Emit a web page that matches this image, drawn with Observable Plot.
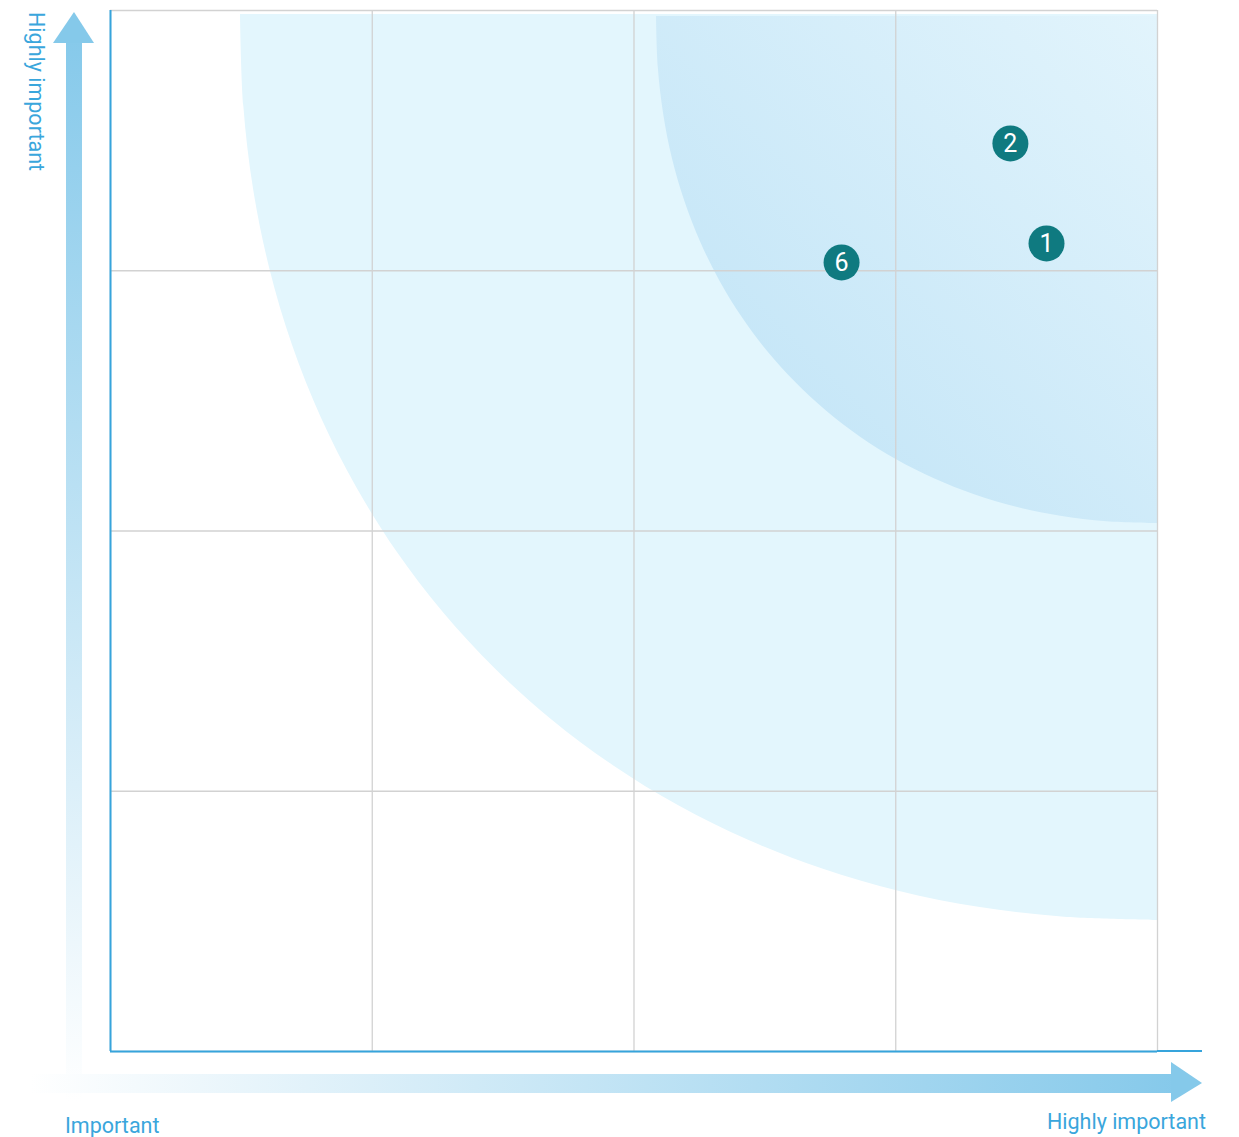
<!DOCTYPE html>
<html>
<head>
<meta charset="utf-8">
<script src="https://cdn.jsdelivr.net/npm/d3@7"></script>
<script src="https://cdn.jsdelivr.net/npm/@observablehq/plot@0.6"></script>
<style>
  html, body { margin: 0; padding: 0; background: #ffffff; }
  #chart { width: 1239px; height: 1137px; }
</style>
</head>
<body>
<div id="chart"></div>
<script>
// ---------- data ----------
const gridTicks = [0, 1, 2, 3, 4];

// outer (light) zone boundary, from its top end to its right end
const outerX = [0.4967, 0.5093, 0.5467, 0.6090, 0.6953, 0.8057, 0.9394, 1.0949, 1.2722, 1.4697, 1.6867, 1.9213, 2.1727, 2.4397, 2.7209, 3.0151, 3.3230, 3.6454, 4.0000];
const outerY = [3.9846, 3.6323, 3.3122, 3.0060, 2.7135, 2.4342, 2.1691, 1.9189, 1.6857, 1.4705, 1.2742, 1.0982, 0.9433, 0.8104, 0.7009, 0.6148, 0.5529, 0.5157, 0.5034];

// inner (darker) zone boundary
const innerX = [2.0860, 2.0928, 2.1135, 2.1471, 2.1944, 2.2548, 2.3278, 2.4130, 2.5096, 2.6178, 2.7362, 2.8642, 3.0017, 3.1476, 3.3012, 3.4621, 3.6302, 3.8063, 4.0000];
const innerY = [3.9769, 3.7798, 3.6008, 3.4294, 3.2657, 3.1094, 2.9610, 2.8211, 2.6905, 2.5702, 2.4599, 2.3616, 2.2751, 2.2006, 2.1395, 2.0911, 2.0569, 2.0357, 2.0288];

// numbered items
const itemLabels = ["2", "1", "6"];
const itemX = [3.438, 3.576, 2.793];
const itemY = [3.489, 3.105, 3.032];

// axis texts
const xLowLabel = "Important";
const xHighLabel = "Highly important";
const yHighLabel = "Highly important";

// ---------- tables ----------
const outer = outerX.map((x, i) => ({x, y: outerY[i]}));
const inner = innerX.map((x, i) => ({x, y: innerY[i]}));
const items = itemLabels.map((label, i) => ({label, x: itemX[i], y: itemY[i]}));

const outerCornerX = outerX[outerX.length - 1], outerCornerY = outerY[0];
const innerCornerX = innerX[innerX.length - 1], innerCornerY = innerY[0];

const blue = "#36a4dc";
const labelBlue = "#3aa6dc";
const gridGray = "#d2d2d2";
const fontFamily = "Roboto, 'Open Sans', sans-serif";

const plot = Plot.plot({
  width: 1239,
  height: 1137,
  marginLeft: 110,
  marginRight: 82,
  marginTop: 10,
  marginBottom: 86,
  x: {domain: [0, 4], axis: null},
  y: {domain: [0, 4], axis: null},
  style: {background: "#ffffff", fontFamily},
  marks: [
    Plot.area(outer, {
      x1: "x", y1: "y",
      x2: () => outerCornerX, y2: () => outerCornerY,
      curve: "catmull-rom",
      fill: "#e3f6fd"
    }),
    Plot.area(inner, {
      x1: "x", y1: "y",
      x2: () => innerCornerX, y2: () => innerCornerY,
      curve: "catmull-rom",
      fill: "url(#innerGrad)"
    }),
    Plot.ruleX(gridTicks, {stroke: gridGray, strokeWidth: 1.3}),
    Plot.ruleY(gridTicks, {stroke: gridGray, strokeWidth: 1.3}),
    Plot.ruleX([0], {stroke: blue, strokeWidth: 2}),
    Plot.ruleY([0], {stroke: blue, strokeWidth: 2}),
    Plot.dot(items, {x: "x", y: "y", r: 18, fill: "#0f7a80", stroke: "none"}),
    Plot.text(items, {x: "x", y: "y", text: "label", fill: "#ffffff", fontSize: 25, fontFamily, dy: 1})
  ]
});

document.getElementById("chart").appendChild(plot);

// ---------- decorations (arrows, axis texts) ----------
const svg = d3.select(plot);
const xs = plot.scale("x"), ys = plot.scale("y");
const X0 = xs.apply(0), X4 = xs.apply(4), Y0 = ys.apply(0), Y4 = ys.apply(4);

const defs = svg.insert("defs", ":first-child");
const ig = defs.append("linearGradient").attr("id", "innerGrad")
  .attr("x1", 0).attr("y1", 1).attr("x2", 1).attr("y2", 0);
ig.append("stop").attr("offset", 0).attr("stop-color", "#bde2f6");
ig.append("stop").attr("offset", 1).attr("stop-color", "#e2f4fc");

const vg = defs.append("linearGradient").attr("id", "vArrowGrad")
  .attr("gradientUnits", "userSpaceOnUse")
  .attr("x1", 0).attr("y1", Y4).attr("x2", 0).attr("y2", Y0 + 50);
vg.append("stop").attr("offset", 0).attr("stop-color", "#83c8ea");
vg.append("stop").attr("offset", 1).attr("stop-color", "#ffffff");

const hg = defs.append("linearGradient").attr("id", "hArrowGrad")
  .attr("gradientUnits", "userSpaceOnUse")
  .attr("x1", X0 - 80).attr("y1", 0).attr("x2", X4 + 45).attr("y2", 0);
hg.append("stop").attr("offset", 0).attr("stop-color", "#ffffff");
hg.append("stop").attr("offset", 1).attr("stop-color", "#83c8ea");

const deco = svg.append("g").attr("text-anchor", "start");

// vertical arrow
deco.append("rect")
  .attr("x", X0 - 44).attr("y", Y4 + 32)
  .attr("width", 16).attr("height", (Y0 + 50) - (Y4 + 32))
  .attr("fill", "url(#vArrowGrad)");
deco.append("path")
  .attr("d", `M${X0 - 57},${Y4 + 33}L${X0 - 36},${Y4 + 2}L${X0 - 16},${Y4 + 33}Z`)
  .attr("fill", "#85c9ea");

// horizontal arrow
deco.append("rect")
  .attr("x", X0 - 80).attr("y", Y0 + 23)
  .attr("width", (X4 + 15) - (X0 - 80)).attr("height", 19)
  .attr("fill", "url(#hArrowGrad)");
deco.append("path")
  .attr("d", `M${X4 + 14},${Y0 + 11}L${X4 + 45},${Y0 + 32}L${X4 + 14},${Y0 + 51}Z`)
  .attr("fill", "#85c9ea");

// x axis line extension past the frame
deco.append("line")
  .attr("x1", X4).attr("x2", X4 + 45)
  .attr("y1", Y0).attr("y2", Y0)
  .attr("stroke", blue).attr("stroke-width", 2);

// axis texts
deco.append("text")
  .attr("x", X0 - 45).attr("y", Y0 + 82)
  .attr("text-anchor", "start")
  .attr("fill", labelBlue).attr("font-size", 21.5).attr("font-family", fontFamily)
  .text(xLowLabel);
deco.append("text")
  .attr("x", X4 + 49).attr("y", Y0 + 78)
  .attr("text-anchor", "end")
  .attr("fill", labelBlue).attr("font-size", 21.5).attr("font-family", fontFamily)
  .text(xHighLabel);
deco.append("text")
  .attr("transform", `translate(${X0 - 81},${Y4 + 2}) rotate(90)`)
  .attr("text-anchor", "start")
  .attr("fill", labelBlue).attr("font-size", 21.5).attr("font-family", fontFamily)
  .text(yHighLabel);
</script>
</body>
</html>
